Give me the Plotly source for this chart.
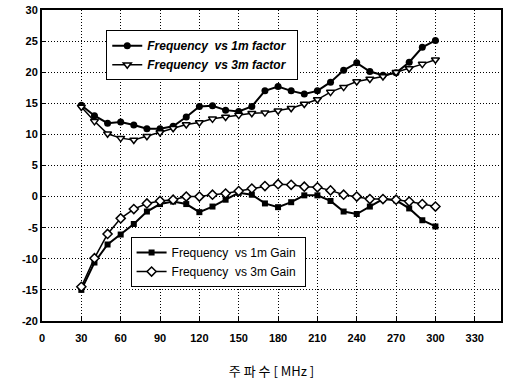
import plotly.graph_objects as go

# Frequency points (MHz)
freq = [30, 40, 50, 60, 70, 80, 90, 100, 110, 120, 130, 140, 150, 160,
        170, 180, 190, 200, 210, 220, 230, 240, 250, 260, 270, 280, 290, 300]

# Antenna factor (dB/m) at 1 m and 3 m
factor_1m = [14.7, 13.0, 11.8, 12.0, 11.5, 10.9, 10.9, 11.3, 12.8, 14.5, 14.6, 13.9, 13.7, 14.5,
             17.0, 17.7, 17.0, 16.5, 17.0, 18.4, 20.3, 21.5, 20.1, 19.5, 19.9, 21.6, 24.0, 25.1]
factor_3m = [14.4, 12.1, 10.1, 9.4, 9.1, 9.7, 10.3, 11.0, 11.6, 11.9, 12.5, 12.8, 13.1, 13.4,
             13.5, 13.8, 14.2, 14.9, 15.6, 16.8, 17.6, 18.5, 18.9, 19.3, 20.0, 20.6, 21.3, 22.0]

# Antenna gain (dBi) at 1 m and 3 m
gain_1m = [-15.0, -10.6, -7.7, -6.1, -4.4, -2.4, -1.2, -0.8, -1.2, -2.5, -1.6, -0.5, 0.6, 0.3,
           -1.1, -1.7, -0.9, 0.2, 0.2, -0.7, -2.4, -2.8, -1.6, -0.4, -0.6, -1.9, -3.8, -4.8]
gain_3m = [-14.5, -9.9, -6.0, -3.5, -2.0, -1.1, -0.7, -0.5, 0.0, 0.0, 0.3, 0.5, 0.9, 1.3,
           1.7, 2.0, 1.9, 1.6, 1.5, 1.0, 0.3, 0.0, -0.4, -0.4, -0.5, -0.8, -1.2, -1.6]

x_ticks = [0, 30, 60, 90, 120, 150, 180, 210, 240, 270, 300, 330]
y_ticks = [-20, -15, -10, -5, 0, 5, 10, 15, 20, 25, 30]

NB = "\u00a0"
fig = go.Figure()

fig.add_trace(go.Scatter(
    x=freq, y=factor_1m, mode="lines+markers",
    name=f"<i>Frequency{NB}{NB}vs 1m factor</i>{NB}{NB}",
    line=dict(color="black", width=2),
    marker=dict(symbol="circle", size=7, color="black"),
    legend="legend"))
fig.add_trace(go.Scatter(
    x=freq, y=factor_3m, mode="lines+markers",
    name=f"<i>Frequency{NB}{NB}vs 3m factor</i>{NB}{NB}",
    line=dict(color="black", width=1.5),
    marker=dict(symbol="triangle-down", size=7, color="white",
                line=dict(color="black", width=1.5)),
    legend="legend"))
fig.add_trace(go.Scatter(
    x=freq, y=gain_1m, mode="lines+markers",
    name=f"Frequency{NB}{NB}vs 1m Gain{NB}",
    line=dict(color="black", width=2),
    marker=dict(symbol="square", size=6, color="black"),
    legend="legend2"))
fig.add_trace(go.Scatter(
    x=freq, y=gain_3m, mode="lines+markers",
    name=f"Frequency{NB}{NB}vs 3m Gain{NB}",
    line=dict(color="black", width=1.5),
    marker=dict(symbol="diamond", size=7, color="white",
                line=dict(color="black", width=1.5)),
    legend="legend2"))

tick_font = dict(family="Liberation Sans, Arial, sans-serif", size=11, color="black")
legend_common = dict(
    bgcolor="white", bordercolor="black", borderwidth=1,
    xanchor="left", yanchor="top", itemwidth=30, tracegroupgap=0,
)

fig.update_layout(
    width=505, height=383,
    margin=dict(l=42, r=2, t=10, b=62),
    paper_bgcolor="white", plot_bgcolor="white",
    showlegend=True,
    legend=dict(x=0.14, y=0.935,
                font=dict(family="Liberation Sans, Arial, sans-serif", size=12,
                          color="black", weight="bold"),
                **legend_common),
    legend2=dict(x=0.193, y=0.27,
                 font=dict(family="Liberation Sans, Arial, sans-serif", size=12,
                           color="black"),
                 **legend_common),
    xaxis=dict(
        range=[0, 350], tickvals=x_ticks, ticktext=[str(v) for v in x_ticks],
        showgrid=True, gridcolor="black", griddash="1px,2px", gridwidth=1,
        zeroline=False, showline=True, linecolor="black", linewidth=2, mirror=True,
        ticks="inside", ticklen=4, tickcolor="black", ticklabelstandoff=6,
        tickfont=dict(**tick_font, weight="bold"),
        title=dict(text="주 파 수 [ MHz ]",
                   font=dict(family="Noto Sans CJK KR", size=13, color="black"),
                   standoff=24),
    ),
    yaxis=dict(
        range=[-20, 30], tickvals=y_ticks, ticktext=[str(v) for v in y_ticks],
        showgrid=True, gridcolor="black", griddash="1px,2px", gridwidth=1,
        zeroline=False, showline=True, linecolor="black", linewidth=2, mirror=True,
        ticks="inside", ticklen=4, tickcolor="black",
        tickfont=dict(**tick_font, weight="bold"),
    ),
)

fig.write_html("out.html")
